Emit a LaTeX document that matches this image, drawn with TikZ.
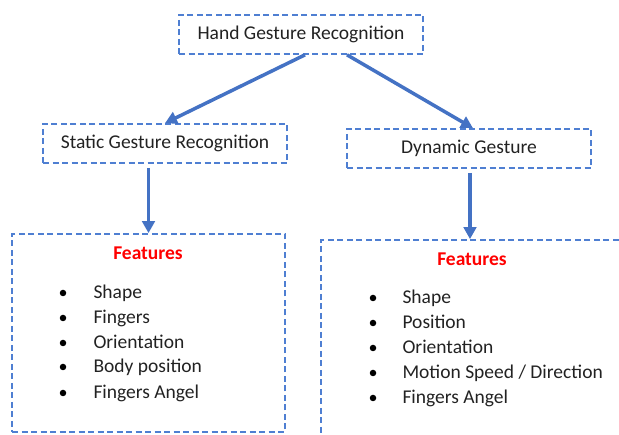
\documentclass[tikz,border=0pt]{standalone}
\usepackage{fontspec}
\setmainfont{Carlito}
\usepackage{tikz}
\usetikzlibrary{arrows.meta}
\definecolor{boxblue}{HTML}{4F7FD2}
\definecolor{arrowblue}{HTML}{4472C4}
\definecolor{ink}{HTML}{222222}
\definecolor{featred}{HTML}{FF0000}
\tikzset{
  dashbox/.style={draw=boxblue, line width=1.7pt, dash pattern=on 6pt off 3.5pt},
  titlebox/.style={dashbox, minimum width=244pt, minimum height=39pt, text=ink, font=\fontsize{19.5}{23}\selectfont},
  flow/.style={draw=arrowblue, line width=3.5pt, -{Triangle[length=12pt,width=12.5pt]}},
  feathead/.style={text=featred, font=\bfseries\fontsize{19.5}{23}\selectfont},
  listitem/.style={text=ink, anchor=base west, font=\fontsize{19.5}{23}\selectfont},
  bulletdot/.style={circle, fill=black, inner sep=0pt, minimum size=6.5pt},
}

\begin{document}
\begin{tikzpicture}[x=1pt, y=-1pt]
\useasboundingbox (0,0) rectangle (619,435);

% top level
\node[titlebox] (hgr) at (301,34.5) {Hand Gesture Recognition};
\node[titlebox] (static) at (165,143.5) {Static Gesture Recognition};
\node[titlebox] (dynamic) at (469,148.5) {Dynamic Gesture};

% feature boxes
\node[dashbox, minimum width=273pt, minimum height=198pt] (featL) at (148.5,333) {};
\node[dashbox, minimum width=319pt, minimum height=220pt] (featR) at (480.5,350) {};

% arrows
\draw[flow] ([xshift=4pt]hgr.south) -- (static.north);
\draw[flow] ([xshift=46pt]hgr.south) -- ([xshift=4pt]dynamic.north);
\draw[flow] ([xshift=-16.5pt,yshift=-4pt]static.south) -- (featL.north);
\draw[flow] ([xshift=1pt,yshift=-4pt]dynamic.south) -- ([xshift=-10.5pt]featR.north);

% static features
\node[feathead] (headL) at (148,253) {Features};
\node[bulletdot] (bL1) at (63,293) {};
\node[listitem] (iL1) at (90,299) {Shape};
\node[bulletdot] (bL2) at (63,318) {};
\node[listitem] (iL2) at (90,324) {Fingers};
\node[bulletdot] (bL3) at (63,343) {};
\node[listitem] (iL3) at (90,349) {Orientation};
\node[bulletdot] (bL4) at (63,367) {};
\node[listitem] (iL4) at (90,373) {Body position};
\node[bulletdot] (bL5) at (63,393) {};
\node[listitem] (iL5) at (90,399) {Fingers Angel};

% dynamic features
\node[feathead] (headR) at (472,259) {Features};
\node[bulletdot] (bR1) at (373,298) {};
\node[listitem] (iR1) at (399,304) {Shape};
\node[bulletdot] (bR2) at (373,323) {};
\node[listitem] (iR2) at (399,329) {Position};
\node[bulletdot] (bR3) at (373,348) {};
\node[listitem] (iR3) at (399,354) {Orientation};
\node[bulletdot] (bR4) at (373,373) {};
\node[listitem] (iR4) at (399,379) {Motion Speed / Direction};
\node[bulletdot] (bR5) at (373,398) {};
\node[listitem] (iR5) at (399,404) {Fingers Angel};
\end{tikzpicture}
\end{document}
